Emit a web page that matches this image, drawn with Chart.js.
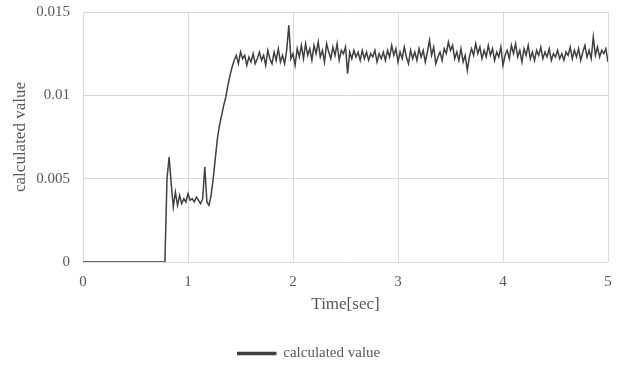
<!DOCTYPE html>
<html>
<head>
<meta charset="utf-8">
<script src="https://cdn.jsdelivr.net/npm/chart.js@4.4.1/dist/chart.umd.min.js"></script>
<style>
  html, body { margin: 0; padding: 0; background: #fff; }
  #wrap { width: 624px; height: 366px; }
</style>
</head>
<body>
<div id="wrap"><canvas id="chart" width="624" height="366"></canvas></div>
<script>
// sample spacing of the series (sec)
const TIME_STEP = 0.02;

// 0 .. 0.78 sec : nothing yet
const idleValues = [
    0, 0, 0, 0, 0, 0, 0, 0, 0, 0,
    0, 0, 0, 0, 0, 0, 0, 0, 0, 0,
    0, 0, 0, 0, 0, 0, 0, 0, 0, 0,
    0, 0, 0, 0, 0, 0, 0, 0, 0, 0
];

// 0.80 .. 1.48 sec : first step and rise
const riseValues = [
    0.0050, 0.0063, 0.0047, 0.0033, 0.0042, 0.0034, 0.0040, 0.0035, 0.0038, 0.0036,
    0.0041, 0.0037, 0.0038, 0.0036, 0.0039, 0.0037, 0.0035, 0.0038, 0.0057, 0.0036,
    0.0034, 0.0040, 0.0050, 0.0062, 0.0074, 0.0082, 0.0088, 0.0094, 0.0099, 0.0106,
    0.0112, 0.0117, 0.0121, 0.0124, 0.0119
];

// 1.50 .. 5.00 sec : steady, noisy level
const steadyValues = [
    0.0126, 0.0122, 0.0124, 0.0118, 0.0123, 0.0120, 0.0125, 0.0119, 0.0122, 0.0126,
    0.0121, 0.0124, 0.0118, 0.0127, 0.0122, 0.0119, 0.0126, 0.0121, 0.0128, 0.0120,
    0.0124, 0.0119, 0.0127, 0.0142, 0.0122, 0.0125, 0.0118, 0.0128, 0.0123, 0.0130,
    0.0122, 0.0131, 0.0124, 0.0128, 0.0121, 0.0130, 0.0125, 0.0132, 0.0123, 0.0127,
    0.0120, 0.0131, 0.0126, 0.0122, 0.0129, 0.0124, 0.0131, 0.0121, 0.0127, 0.0125,
    0.0129, 0.0113, 0.0126, 0.0122, 0.0127, 0.0123, 0.0126, 0.0121, 0.0127, 0.0122,
    0.0126, 0.0121, 0.0125, 0.0123, 0.0127, 0.0120, 0.0125, 0.0122, 0.0126, 0.0121,
    0.0127, 0.0123, 0.0130, 0.0124, 0.0128, 0.0120, 0.0126, 0.0122, 0.0129, 0.0123,
    0.0119, 0.0127, 0.0122, 0.0126, 0.0121, 0.0128, 0.0123, 0.0127, 0.0120, 0.0126,
    0.0133, 0.0124, 0.0129, 0.0119, 0.0123, 0.0126, 0.0121, 0.0128, 0.0125, 0.0132,
    0.0127, 0.0130, 0.0122, 0.0126, 0.0121, 0.0128, 0.0120, 0.0124, 0.0115, 0.0123,
    0.0128, 0.0124, 0.0131, 0.0125, 0.0129, 0.0122, 0.0127, 0.0123, 0.0130, 0.0124,
    0.0128, 0.0121, 0.0126, 0.0123, 0.0129, 0.0118, 0.0124, 0.0127, 0.0122, 0.0130,
    0.0125, 0.0131, 0.0123, 0.0127, 0.0120, 0.0128, 0.0124, 0.0130, 0.0122, 0.0126,
    0.0121, 0.0127, 0.0124, 0.0129, 0.0122, 0.0126, 0.0123, 0.0128, 0.0121, 0.0125,
    0.0123, 0.0127, 0.0122, 0.0125, 0.0121, 0.0126, 0.0124, 0.0129, 0.0122, 0.0127,
    0.0123, 0.0128, 0.0121, 0.0126, 0.0130, 0.0123, 0.0127, 0.0122, 0.0135, 0.0124,
    0.0129, 0.0123, 0.0127, 0.0125, 0.0128, 0.0120
];

const xTicks = [0, 1, 2, 3, 4, 5];
const yTicks = [0, 0.005, 0.01, 0.015];

const seriesName = 'calculated value';
const xTitle = 'Time[sec]';
const yTitle = 'calculated value';

const allValues = idleValues.concat(riseValues, steadyValues);
const points = allValues.map(function(v, i) {
    return { x: +(i * TIME_STEP).toFixed(2), y: v };
});

const textGrey = '#595959';
const lineGrey = '#404040';
const gridGrey = '#d9d9d9';
const serif = "'Liberation Serif', 'DejaVu Serif', serif";

new Chart(document.getElementById('chart'), {
    type: 'line',
    data: {
        datasets: [{
            label: seriesName,
            data: points,
            borderColor: lineGrey,
            backgroundColor: lineGrey,
            borderWidth: 1.5,
            pointRadius: 0,
            tension: 0
        }]
    },
    options: {
        responsive: false,
        animation: false,
        layout: { padding: { left: 10, right: 16, top: 12, bottom: -5 } },
        plugins: {
            tooltip: { enabled: false },
            legend: {
                display: true,
                position: 'bottom',
                labels: {
                    color: textGrey,
                    font: { family: serif, size: 15 },
                    boxWidth: 38,
                    boxHeight: 2,
                    padding: 7
                }
            }
        },
        scales: {
            x: {
                type: 'linear',
                min: xTicks[0],
                max: xTicks[xTicks.length - 1],
                afterBuildTicks: function(scale) {
                    scale.ticks = xTicks.map(function(v) { return { value: v }; });
                },
                afterFit: function(scale) { scale.height = 77; },
                grid: { color: gridGrey, drawTicks: false },
                border: { display: false },
                ticks: {
                    color: textGrey,
                    font: { family: serif, size: 15 },
                    padding: 11,
                    maxRotation: 0
                },
                title: {
                    display: true,
                    text: xTitle,
                    color: textGrey,
                    font: { family: serif, size: 17 },
                    padding: { top: 2, bottom: 24 }
                }
            },
            y: {
                min: yTicks[0],
                max: yTicks[yTicks.length - 1],
                afterBuildTicks: function(scale) {
                    scale.ticks = yTicks.map(function(v) { return { value: v }; });
                },
                afterFit: function(scale) {
                    scale.width = 73;
                    scale.paddingTop = 0;
                    scale.paddingBottom = 0;
                },
                grid: { color: gridGrey, drawTicks: false },
                border: { display: false },
                ticks: {
                    color: textGrey,
                    font: { family: serif, size: 15 },
                    padding: 13,
                    callback: function(v) { return String(parseFloat(v.toFixed(3))); }
                },
                title: {
                    display: true,
                    text: yTitle,
                    color: textGrey,
                    font: { family: serif, size: 17 },
                    padding: 0
                }
            }
        }
    }
});
</script>
</body>
</html>
